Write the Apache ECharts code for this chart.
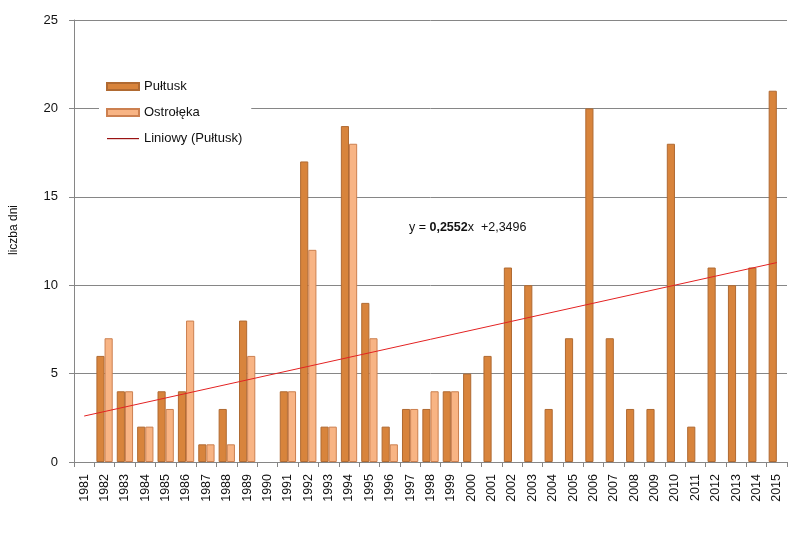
<!DOCTYPE html>
<html>
<head>
<meta charset="utf-8">
<script src="https://cdn.jsdelivr.net/npm/echarts@6/dist/echarts.min.js"></script>
<style>
html,body{margin:0;padding:0;background:#fff;}
#chart{width:805px;height:539px;}
</style>
</head>
<body>
<div id="chart"></div>
<script>
const years = ['1981','1982','1983','1984','1985','1986','1987','1988','1989','1990','1991','1992','1993','1994','1995','1996','1997','1998','1999','2000','2001','2002','2003','2004','2005','2006','2007','2008','2009','2010','2011','2012','2013','2014','2015'];
const pultusk = [0,6,4,2,4,4,1,3,8,0,4,17,2,19,9,2,3,3,4,5,6,11,10,3,7,20,7,3,3,18,2,11,10,11,21];
const ostroleka = [0,7,4,2,3,8,1,1,6,0,4,12,2,18,7,1,3,4,4,null,null,null,null,null,null,null,null,null,null,null,null,null,null,null,null];
const trendEnds = [['1981', 2.6], ['2015', 11.28]];
const yTicks = [0,5,10,15,20,25];
const equation = ['y = ', '0,2552', 'x  +2,3496'];

const font = 'Liberation Sans, Arial, sans-serif';
const toBars = arr => arr.map(v => v === 0 ? {value: 0, itemStyle: {borderWidth: 0, opacity: 0}} : v);
const lineIcon = 'path://M0,0L0,0M0,3L32,3L32,4.2L0,4.2ZM32,7L32,7';
const chart = echarts.init(document.getElementById('chart'));
chart.setOption({
  animation: false,
  textStyle: {fontFamily: font},
  grid: {left: 73, right: 18, top: 20, bottom: 77},
  legend: {
    orient: 'vertical', left: 99, top: 76,
    backgroundColor: '#fff',
    padding: [4, 9, 6, 7],
    itemWidth: 32, itemHeight: 7, itemGap: 13,
    textStyle: {fontFamily: font, fontSize: 13, color: '#111'},
    data: [
      {name: 'Pułtusk', icon: 'rect'},
      {name: 'Ostrołęka', icon: 'rect'},
      {name: 'Liniowy (Pułtusk)', icon: lineIcon, itemStyle: {color: '#9A1212', borderWidth: 0}}
    ]
  },
  xAxis: {
    type: 'category', data: years,
    axisLine: {lineStyle: {color: '#868686'}},
    axisTick: {show: true, length: 5, lineStyle: {color: '#868686'}},
    axisLabel: {rotate: 90, margin: 12, fontSize: 12.5, color: '#111', fontFamily: font}
  },
  yAxis: {
    type: 'value', min: 0, max: 25, interval: 5,
    name: 'liczba dni', nameLocation: 'middle', nameGap: 54,
    nameTextStyle: {fontSize: 12, color: '#111', fontFamily: font, padding: [0, 0, 0, 22]},
    axisLine: {show: true, lineStyle: {color: '#868686'}},
    axisTick: {show: true, length: 5, lineStyle: {color: '#868686'}},
    axisLabel: {margin: 16, fontSize: 13, color: '#111', fontFamily: font,
      formatter: v => yTicks.includes(v) ? String(v) : ''},
    splitLine: {lineStyle: {color: '#868686'}}
  },
  series: [
    {name: 'Pułtusk', type: 'bar', data: toBars(pultusk), barGap: '0%', barCategoryGap: '20%',
     itemStyle: {color: '#D8843C', borderColor: '#B06A32', borderWidth: 1}},
    {name: 'Ostrołęka', type: 'bar', data: toBars(ostroleka),
     itemStyle: {color: '#F8B484', borderColor: '#CC8050', borderWidth: 1}},
    {name: 'Liniowy (Pułtusk)', type: 'line', data: trendEnds, symbol: 'none', z: 5,
     lineStyle: {color: '#E32222', width: 1}, itemStyle: {color: '#E32222'}}
  ],
  graphic: [{
    type: 'text', left: 409, top: 221, z: 10,
    style: {
      text: '{n|' + equation[0] + '}{b|' + equation[1] + '}{n|' + equation[2] + '}',
      rich: {
        n: {fontFamily: font, fontSize: 12.5, fill: '#111'},
        b: {fontFamily: font, fontSize: 12.5, fontWeight: 'bold', fill: '#111'}
      }
    }
  }]
});
</script>
</body>
</html>
